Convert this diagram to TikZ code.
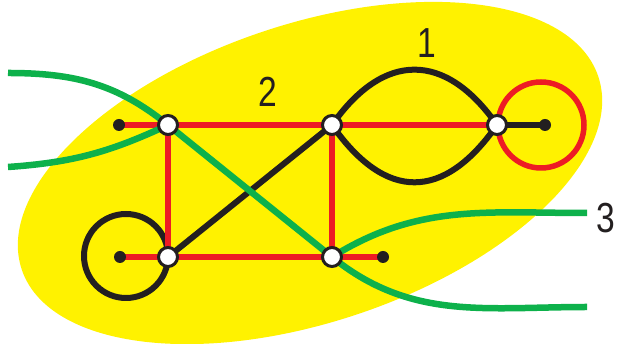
\documentclass[tikz,border=0pt]{standalone}
\usepackage{xcolor}
\usepackage{fontspec}
\usepackage{tikz}
\usetikzlibrary{arrows.meta,positioning,calc}
\newfontfamily\lblfont[FakeStretch=0.8]{Liberation Sans}
\definecolor{lemon}{HTML}{FFF200}
\definecolor{scarlet}{HTML}{ED1C24}
\definecolor{leaf}{HTML}{0DB14B}
\definecolor{ink}{HTML}{231F20}
\tikzset{
  redline/.style={draw=scarlet, line width=5.5pt},
  blackline/.style={draw=ink, line width=6pt},
  greenline/.style={draw=leaf, line width=6.5pt},
  vtx/.style={circle, draw=ink, fill=white, line width=3pt, minimum size=19pt, inner sep=0pt},
  enddot/.style={circle, fill=ink, minimum size=12pt, inner sep=0pt},
  num/.style={font=\lblfont\fontsize{42}{42}\selectfont, text=ink, inner sep=0pt},
}

\begin{document}
\begin{tikzpicture}[x=1pt,y=1pt]
\useasboundingbox (0,0) rectangle (618,344);

% yellow region
\fill[lemon, rotate around={18.5:(310,171)}] (310,171) ellipse [x radius=304, y radius=149];

% vertices and free ends
\coordinate (a) at (168,219);
\coordinate (b) at (332,219);
\coordinate (c) at (497,219);
\coordinate (d) at (168,87);
\coordinate (e) at (332,87);
\coordinate (la) at (119,219);
\coordinate (lc) at (545,219);
\coordinate (ld) at (120,87);
\coordinate (le) at (383,87);
\coordinate (rloop) at (541,219);
\coordinate (bloop) at (126,88);
\coordinate (g1) at (8,271);
\coordinate (g2) at (8,177);
\coordinate (g3) at (587,131);
\coordinate (g4) at (587,37);

% black edges
\draw[blackline] (bloop) circle[radius=42];
\draw[blackline] (d) -- (b);
\draw[blackline] (c) -- (lc);
\draw[blackline] (b) to[out=55,in=125,looseness=1.4] (c);
\draw[blackline] (b) to[out=-55,in=-125,looseness=1.45] (c);

% red edges
\draw[redline] (rloop) circle[radius=43];
\draw[redline] (la) -- (a) -- (b) -- (c);
\draw[redline] (a) -- (d);
\draw[redline] (b) -- (e);
\draw[redline] (ld) -- (d) -- (e) -- (le);

% green edges
\draw[greenline] (g1) to[out=0,in=141] (a);
\draw[greenline] (g2) to[out=4,in=205] (a);
\draw[greenline] (a) -- (e);
\draw[greenline] (e) to[out=32,in=180] (g3);
\draw[greenline] (e) to[out=-39,in=180] (g4);

% nodes on top
\foreach \v in {a,b,c,d,e} \node[vtx] at (\v) {};
\foreach \v in {la,lc,ld,le} \node[enddot] at (\v) {};

% labels
\node[num] (n1) at (427,301) {1};
\node[num] (n2) at (268,252) {2};
\node[num] (n3) at (606,126) {3};
\end{tikzpicture}
\end{document}
